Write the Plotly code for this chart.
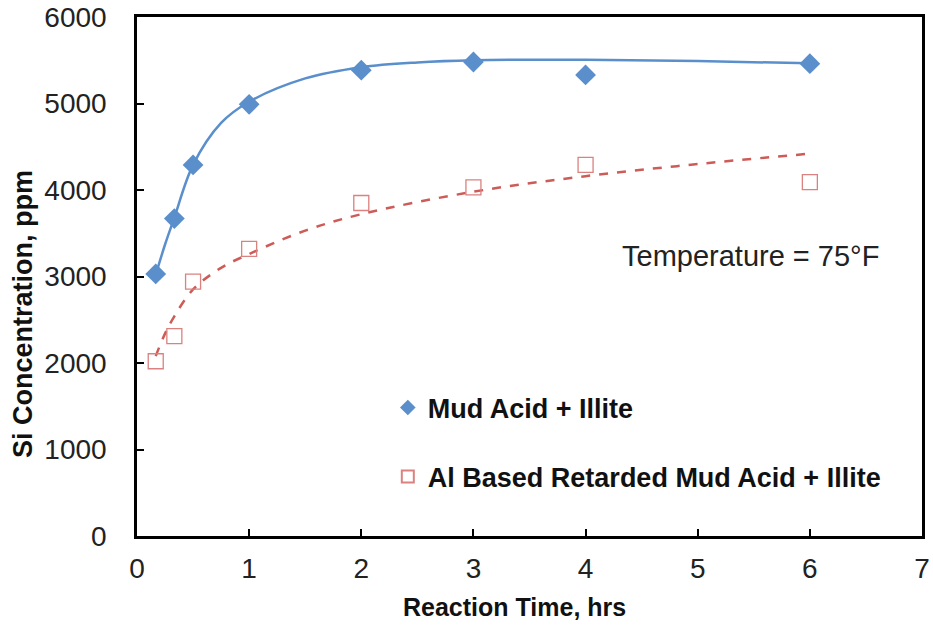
import plotly.graph_objects as go

# Data
time_hrs = [0.167, 0.333, 0.5, 1, 2, 3, 4, 6]
mud_acid = [3030, 3670, 4290, 4990, 5385, 5480, 5330, 5460]
retarded = [2020, 2310, 2940, 3320, 3850, 4030, 4290, 4090]

# Trend curves
mud_fit_x = [0.167, 0.25, 0.333, 0.5, 0.75, 1, 1.5, 2, 2.5, 3, 4, 5, 6]
mud_fit_y = [3020, 3370, 3680, 4290, 4775, 5020, 5290, 5420, 5475, 5500, 5505, 5490, 5465]
ret_fit_x = [0.167, 0.25, 0.333, 0.5, 0.75, 1, 1.5, 2, 3, 4, 5, 6]
ret_fit_y = [2080, 2340, 2540, 2850, 3100, 3260, 3530, 3720, 3980, 4160, 4300, 4420]

x_ticks = [0, 1, 2, 3, 4, 5, 6, 7]
y_ticks = [0, 1000, 2000, 3000, 4000, 5000, 6000]

blue = "#5a8fcc"
red_line = "#cd5b57"
red_marker = "#d9827f"
font_family = "Liberation Sans, Arial, sans-serif"

fig = go.Figure()
fig.add_trace(go.Scatter(x=mud_fit_x, y=mud_fit_y, mode="lines", line=dict(color=blue, width=2.5, shape="spline"),
                         showlegend=False, hoverinfo="skip"))
fig.add_trace(go.Scatter(x=ret_fit_x, y=ret_fit_y, mode="lines",
                         line=dict(color=red_line, width=2.5, dash="dash", shape="spline"),
                         showlegend=False, hoverinfo="skip"))
fig.add_trace(go.Scatter(x=time_hrs, y=mud_acid, mode="markers", name="<b>Mud Acid + Illite</b>",
                         marker=dict(symbol="diamond", size=16, color=blue), legend="legend"))
fig.add_trace(go.Scatter(x=time_hrs, y=retarded, mode="markers", name="<b>Al Based Retarded Mud Acid + Illite</b>",
                         marker=dict(symbol="square-open", size=15, color=red_marker, line=dict(width=1.3)),
                         legend="legend2"))

axis_common = dict(showline=True, linecolor="black", linewidth=2.5, mirror=True, ticks="inside",
                   ticklen=7, tickwidth=2, tickcolor="black", showgrid=False, zeroline=False,
                   automargin=False,
                   tickfont=dict(size=28, color="#222222", family=font_family))

fig.update_xaxes(range=[0, 7], tickvals=x_ticks, ticklabelstandoff=6, **axis_common)
fig.update_yaxes(range=[0, 6000], tickvals=y_ticks, ticklabelstandoff=22, **axis_common)

legend_font = dict(size=27, color="#111111", family=font_family)
fig.update_layout(
    width=933, height=627,
    margin=dict(l=137, r=11, t=17, b=91),
    paper_bgcolor="white", plot_bgcolor="white",
    font=dict(family=font_family),
    legend=dict(x=0.3195, y=0.2466, xanchor="left", yanchor="middle", font=legend_font, bgcolor="rgba(0,0,0,0)", itemsizing="constant"),
    legend2=dict(x=0.3195, y=0.1137, xanchor="left", yanchor="middle", font=legend_font, bgcolor="rgba(0,0,0,0)", itemsizing="constant"),
    annotations=[
        dict(text="Temperature = 75°F", x=0.781, y=0.5395, xref="paper", yref="paper",
             xanchor="center", yanchor="middle",
             showarrow=False, font=dict(size=29, color="#222222", family=font_family)),
        dict(text="<b>Reaction Time, hrs</b>", x=0.4815, y=-0.137, xref="paper", yref="paper",
             xanchor="center", yanchor="middle",
             showarrow=False, font=dict(size=25, color="#111111", family=font_family)),
        dict(text="<b>Si Concentration, ppm</b>", x=-0.145, y=0.428, xref="paper", yref="paper",
             xanchor="center", yanchor="middle", textangle=-90,
             showarrow=False, font=dict(size=27, color="#111111", family=font_family)),
    ],
)

fig.write_html("out.html")
